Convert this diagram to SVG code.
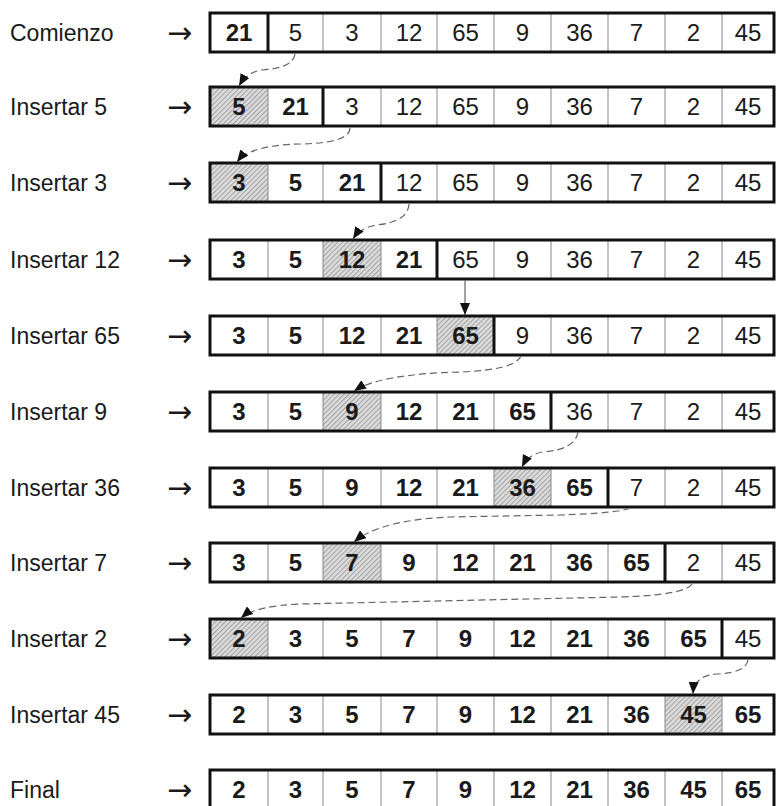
<svg xmlns="http://www.w3.org/2000/svg" xmlns:xlink="http://www.w3.org/1999/xlink" width="776" height="806" viewBox="0 0 776 806">
<style>
text{font-family:"Liberation Sans",Arial,sans-serif;fill:#1a1a1a}
.lbl{font-size:23px}
.arr{font-family:"DejaVu Sans",sans-serif;font-size:30px}
.n{font-size:24px;text-anchor:middle}
.b{font-size:24px;text-anchor:middle;font-weight:bold}
.box{fill:none;stroke:#111;stroke-width:3}
.thick{stroke:#111;stroke-width:3}
.thin{fill:none;stroke:#888;stroke-width:1}
.hatch{fill:url(#hp);stroke:none}
.con{fill:none;stroke:#666;stroke-width:1.2;stroke-dasharray:7 4}
.solid{fill:none;stroke:#666;stroke-width:1.2}
</style>
<defs>
<pattern id="hp" patternUnits="userSpaceOnUse" width="3.5" height="3.5" patternTransform="rotate(45)">
<rect width="3.5" height="3.5" fill="#dcdcdc"/>
<rect width="1" height="3.5" fill="#a0a0a0"/>
</pattern>
<path id="div" class="thin" d="M268,0V39M323,0V39M381,0V39M437,0V39M494,0V39M551,0V39M608,0V39M665,0V39M722,0V39"/>
<marker id="ah" markerUnits="userSpaceOnUse" markerWidth="13" markerHeight="10" refX="12" refY="5" orient="auto">
<path d="M0,0 L12,5 L0,10 z" fill="#111"/>
</marker>
</defs>
<rect width="776" height="806" fill="#fff"/>

<g id="row1">
<text class="lbl" x="10" y="41">Comienzo</text>
<text class="arr" x="167" y="43">→</text>
<use xlink:href="#div" y="13"/>
<line class="thick" x1="268" y1="13" x2="268" y2="52"/>
<rect class="box" x="210" y="13" width="564" height="39"/>
<text class="b" x="239" y="41">21</text><text class="n" x="295.5" y="41">5</text><text class="n" x="352" y="41">3</text><text class="n" x="409" y="41">12</text><text class="n" x="465.5" y="41">65</text><text class="n" x="522.5" y="41">9</text><text class="n" x="579.5" y="41">36</text><text class="n" x="636.5" y="41">7</text><text class="n" x="693.5" y="41">2</text><text class="n" x="748" y="41">45</text>
</g>

<g id="row2">
<text class="lbl" x="10" y="115">Insertar 5</text>
<text class="arr" x="167" y="117">→</text>
<rect class="hatch" x="210" y="87" width="58" height="39"/>
<use xlink:href="#div" y="87"/>
<line class="thick" x1="323" y1="87" x2="323" y2="126"/>
<rect class="box" x="210" y="87" width="564" height="39"/>
<text class="b" x="239" y="115">5</text><text class="b" x="295.5" y="115">21</text><text class="n" x="352" y="115">3</text><text class="n" x="409" y="115">12</text><text class="n" x="465.5" y="115">65</text><text class="n" x="522.5" y="115">9</text><text class="n" x="579.5" y="115">36</text><text class="n" x="636.5" y="115">7</text><text class="n" x="693.5" y="115">2</text><text class="n" x="748" y="115">45</text>
</g>

<g id="row3">
<text class="lbl" x="10" y="191">Insertar 3</text>
<text class="arr" x="167" y="193">→</text>
<rect class="hatch" x="210" y="163" width="58" height="39"/>
<use xlink:href="#div" y="163"/>
<line class="thick" x1="381" y1="163" x2="381" y2="202"/>
<rect class="box" x="210" y="163" width="564" height="39"/>
<text class="b" x="239" y="191">3</text><text class="b" x="295.5" y="191">5</text><text class="b" x="352" y="191">21</text><text class="n" x="409" y="191">12</text><text class="n" x="465.5" y="191">65</text><text class="n" x="522.5" y="191">9</text><text class="n" x="579.5" y="191">36</text><text class="n" x="636.5" y="191">7</text><text class="n" x="693.5" y="191">2</text><text class="n" x="748" y="191">45</text>
</g>

<g id="row4">
<text class="lbl" x="10" y="268">Insertar 12</text>
<text class="arr" x="167" y="270">→</text>
<rect class="hatch" x="323" y="240" width="58" height="39"/>
<use xlink:href="#div" y="240"/>
<line class="thick" x1="437" y1="240" x2="437" y2="279"/>
<rect class="box" x="210" y="240" width="564" height="39"/>
<text class="b" x="239" y="268">3</text><text class="b" x="295.5" y="268">5</text><text class="b" x="352" y="268">12</text><text class="b" x="409" y="268">21</text><text class="n" x="465.5" y="268">65</text><text class="n" x="522.5" y="268">9</text><text class="n" x="579.5" y="268">36</text><text class="n" x="636.5" y="268">7</text><text class="n" x="693.5" y="268">2</text><text class="n" x="748" y="268">45</text>
</g>

<g id="row5">
<text class="lbl" x="10" y="344">Insertar 65</text>
<text class="arr" x="167" y="346">→</text>
<rect class="hatch" x="437" y="316" width="57" height="39"/>
<use xlink:href="#div" y="316"/>
<line class="thick" x1="494" y1="316" x2="494" y2="355"/>
<rect class="box" x="210" y="316" width="564" height="39"/>
<text class="b" x="239" y="344">3</text><text class="b" x="295.5" y="344">5</text><text class="b" x="352" y="344">12</text><text class="b" x="409" y="344">21</text><text class="b" x="465.5" y="344">65</text><text class="n" x="522.5" y="344">9</text><text class="n" x="579.5" y="344">36</text><text class="n" x="636.5" y="344">7</text><text class="n" x="693.5" y="344">2</text><text class="n" x="748" y="344">45</text>
</g>

<g id="row6">
<text class="lbl" x="10" y="420">Insertar 9</text>
<text class="arr" x="167" y="422">→</text>
<rect class="hatch" x="323" y="392" width="58" height="39"/>
<use xlink:href="#div" y="392"/>
<line class="thick" x1="551" y1="392" x2="551" y2="431"/>
<rect class="box" x="210" y="392" width="564" height="39"/>
<text class="b" x="239" y="420">3</text><text class="b" x="295.5" y="420">5</text><text class="b" x="352" y="420">9</text><text class="b" x="409" y="420">12</text><text class="b" x="465.5" y="420">21</text><text class="b" x="522.5" y="420">65</text><text class="n" x="579.5" y="420">36</text><text class="n" x="636.5" y="420">7</text><text class="n" x="693.5" y="420">2</text><text class="n" x="748" y="420">45</text>
</g>

<g id="row7">
<text class="lbl" x="10" y="496">Insertar 36</text>
<text class="arr" x="167" y="498">→</text>
<rect class="hatch" x="494" y="468" width="57" height="39"/>
<use xlink:href="#div" y="468"/>
<line class="thick" x1="608" y1="468" x2="608" y2="507"/>
<rect class="box" x="210" y="468" width="564" height="39"/>
<text class="b" x="239" y="496">3</text><text class="b" x="295.5" y="496">5</text><text class="b" x="352" y="496">9</text><text class="b" x="409" y="496">12</text><text class="b" x="465.5" y="496">21</text><text class="b" x="522.5" y="496">36</text><text class="b" x="579.5" y="496">65</text><text class="n" x="636.5" y="496">7</text><text class="n" x="693.5" y="496">2</text><text class="n" x="748" y="496">45</text>
</g>

<g id="row8">
<text class="lbl" x="10" y="571">Insertar 7</text>
<text class="arr" x="167" y="573">→</text>
<rect class="hatch" x="323" y="543" width="58" height="39"/>
<use xlink:href="#div" y="543"/>
<line class="thick" x1="665" y1="543" x2="665" y2="582"/>
<rect class="box" x="210" y="543" width="564" height="39"/>
<text class="b" x="239" y="571">3</text><text class="b" x="295.5" y="571">5</text><text class="b" x="352" y="571">7</text><text class="b" x="409" y="571">9</text><text class="b" x="465.5" y="571">12</text><text class="b" x="522.5" y="571">21</text><text class="b" x="579.5" y="571">36</text><text class="b" x="636.5" y="571">65</text><text class="n" x="693.5" y="571">2</text><text class="n" x="748" y="571">45</text>
</g>

<g id="row9">
<text class="lbl" x="10" y="647">Insertar 2</text>
<text class="arr" x="167" y="649">→</text>
<rect class="hatch" x="210" y="619" width="58" height="39"/>
<use xlink:href="#div" y="619"/>
<line class="thick" x1="722" y1="619" x2="722" y2="658"/>
<rect class="box" x="210" y="619" width="564" height="39"/>
<text class="b" x="239" y="647">2</text><text class="b" x="295.5" y="647">3</text><text class="b" x="352" y="647">5</text><text class="b" x="409" y="647">7</text><text class="b" x="465.5" y="647">9</text><text class="b" x="522.5" y="647">12</text><text class="b" x="579.5" y="647">21</text><text class="b" x="636.5" y="647">36</text><text class="b" x="693.5" y="647">65</text><text class="n" x="748" y="647">45</text>
</g>

<g id="row10">
<text class="lbl" x="10" y="723">Insertar 45</text>
<text class="arr" x="167" y="725">→</text>
<rect class="hatch" x="665" y="695" width="57" height="39"/>
<use xlink:href="#div" y="695"/>
<rect class="box" x="210" y="695" width="564" height="39"/>
<text class="b" x="239" y="723">2</text><text class="b" x="295.5" y="723">3</text><text class="b" x="352" y="723">5</text><text class="b" x="409" y="723">7</text><text class="b" x="465.5" y="723">9</text><text class="b" x="522.5" y="723">12</text><text class="b" x="579.5" y="723">21</text><text class="b" x="636.5" y="723">36</text><text class="b" x="693.5" y="723">45</text><text class="b" x="748" y="723">65</text>
</g>

<g id="row11">
<text class="lbl" x="10" y="798">Final</text>
<text class="arr" x="167" y="800">→</text>
<use xlink:href="#div" y="770"/>
<rect class="box" x="210" y="770" width="564" height="39"/>
<text class="b" x="239" y="798">2</text><text class="b" x="295.5" y="798">3</text><text class="b" x="352" y="798">5</text><text class="b" x="409" y="798">7</text><text class="b" x="465.5" y="798">9</text><text class="b" x="522.5" y="798">12</text><text class="b" x="579.5" y="798">21</text><text class="b" x="636.5" y="798">36</text><text class="b" x="693.5" y="798">45</text><text class="b" x="748" y="798">65</text>
</g>

<g id="connectors">
<path class="con" d="M295,54 Q293,68 262,70 Q247,72 239,86" marker-end="url(#ah)"/>
<path class="con" d="M350,128 Q350,143 300,144 Q250,145 237,162" marker-end="url(#ah)"/>
<path class="con" d="M409,204 Q408,222 376,225 Q360,228 353,239" marker-end="url(#ah)"/>
<path class="solid" d="M465,280 V315" marker-end="url(#ah)"/>
<path class="con" d="M521,356 Q515,370 460,372 Q380,374 354,391" marker-end="url(#ah)"/>
<path class="con" d="M578,432 Q575,450 542,452 Q528,455 522,467" marker-end="url(#ah)"/>
<path class="con" d="M630,508 Q620,513 560,515 L450,517 Q380,520 354,542" marker-end="url(#ah)"/>
<path class="con" d="M692,584 Q685,595 620,597 L300,604 Q255,606 241,618" marker-end="url(#ah)"/>
<path class="con" d="M748,660 Q746,673 716,674 Q694,676 693,694" marker-end="url(#ah)"/>
</g>
</svg>
